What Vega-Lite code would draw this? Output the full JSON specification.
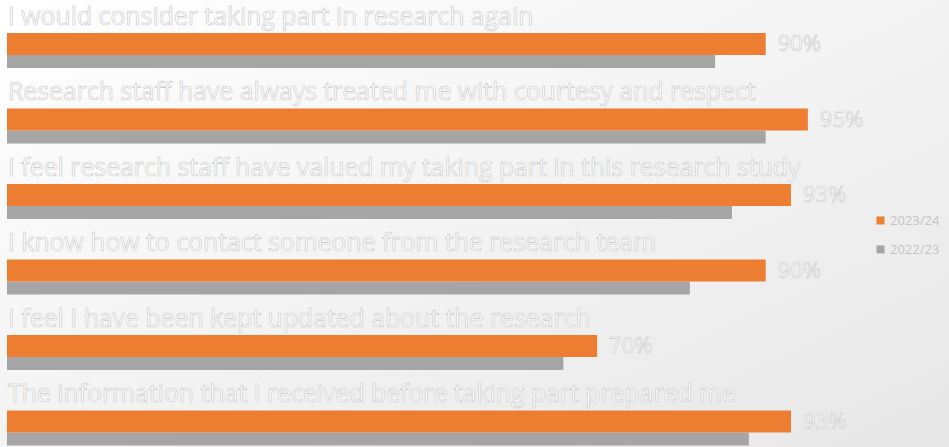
{
  "$schema": "https://vega.github.io/schema/vega-lite/v6.json",
  "width": 949,
  "height": 447,
  "padding": 0,
  "autosize": {"type": "none"},
  "background": "#f2f2f2",
  "config": {
    "view": {
      "stroke": null,
      "fill": {"gradient": "linear", "x1": 0, "y1": 0, "x2": 1, "y2": 1,
        "stops": [{"offset": 0, "color": "#ffffff"}, {"offset": 1, "color": "#e7e7e7"}]}
    },
    "font": "Open Sans"
  },
  "data": {
    "values": [
      {"q": "I would consider taking part in research again", "s": "2023/24", "v": 0.90},
      {"q": "I would consider taking part in research again", "s": "2022/23", "v": 0.84},
      {"q": "Research staff have always treated me with courtesy and respect", "s": "2023/24", "v": 0.95},
      {"q": "Research staff have always treated me with courtesy and respect", "s": "2022/23", "v": 0.90},
      {"q": "I feel research staff have valued my taking part in this research study", "s": "2023/24", "v": 0.93},
      {"q": "I feel research staff have valued my taking part in this research study", "s": "2022/23", "v": 0.86},
      {"q": "I know how to contact someone from the research team", "s": "2023/24", "v": 0.90},
      {"q": "I know how to contact someone from the research team", "s": "2022/23", "v": 0.81},
      {"q": "I feel I have been kept updated about the research", "s": "2023/24", "v": 0.70},
      {"q": "I feel I have been kept updated about the research", "s": "2022/23", "v": 0.66},
      {"q": "The information that I received before taking part prepared me", "s": "2023/24", "v": 0.93},
      {"q": "The information that I received before taking part prepared me", "s": "2022/23", "v": 0.88}
    ]
  },
  "encoding": {
    "y": {"field": "q", "type": "nominal", "sort": null, "axis": null,
      "scale": {"range": [0, 453], "paddingInner": 0, "paddingOuter": 0}},
    "x": {"field": "v", "type": "quantitative", "axis": null,
      "scale": {"domain": [0, 1], "range": [7, 850]}}
  },
  "layer": [
    {
      "transform": [{"filter": "datum.s === '2022/23'"}],
      "mark": {"type": "bar", "height": 13, "yOffset": 23.75},
      "encoding": {
        "color": {"field": "s", "type": "nominal",
          "scale": {"domain": ["2023/24", "2022/23"], "range": ["#ED7D31", "#A5A5A5"]},
          "legend": {"title": null, "orient": "none", "legendX": 874, "legendY": 214,
            "symbolType": "square", "symbolSize": 64, "symbolStrokeWidth": 0,
            "labelFontSize": 13, "labelColor": "#c4c4c4", "rowPadding": 15, "labelOffset": 3}}
      }
    },
    {
      "transform": [{"filter": "datum.s === '2023/24'"}],
      "mark": {"type": "bar", "height": 22, "yOffset": 6.25},
      "encoding": {
        "color": {"field": "s", "type": "nominal"}
      }
    },
    {
      "transform": [{"filter": "datum.s === '2023/24'"}],
      "mark": {"type": "text", "align": "left", "baseline": "middle", "dx": 12, "yOffset": 6.5,
        "fontSize": 22, "fill": "#ffffff", "stroke": "#c8c8c8", "strokeWidth": 0.6},
      "encoding": {
        "text": {"field": "v", "type": "quantitative", "format": ".0%"}
      }
    },
    {
      "transform": [{"filter": "datum.s === '2023/24'"}],
      "mark": {"type": "text", "align": "left", "baseline": "alphabetic", "dx": 1, "yOffset": -13.25,
        "fontSize": 24.8, "fill": "#ffffff", "stroke": "#c8c8c8", "strokeWidth": 0.6},
      "encoding": {
        "x": {"datum": 0},
        "text": {"field": "q"}
      }
    }
  ]
}
